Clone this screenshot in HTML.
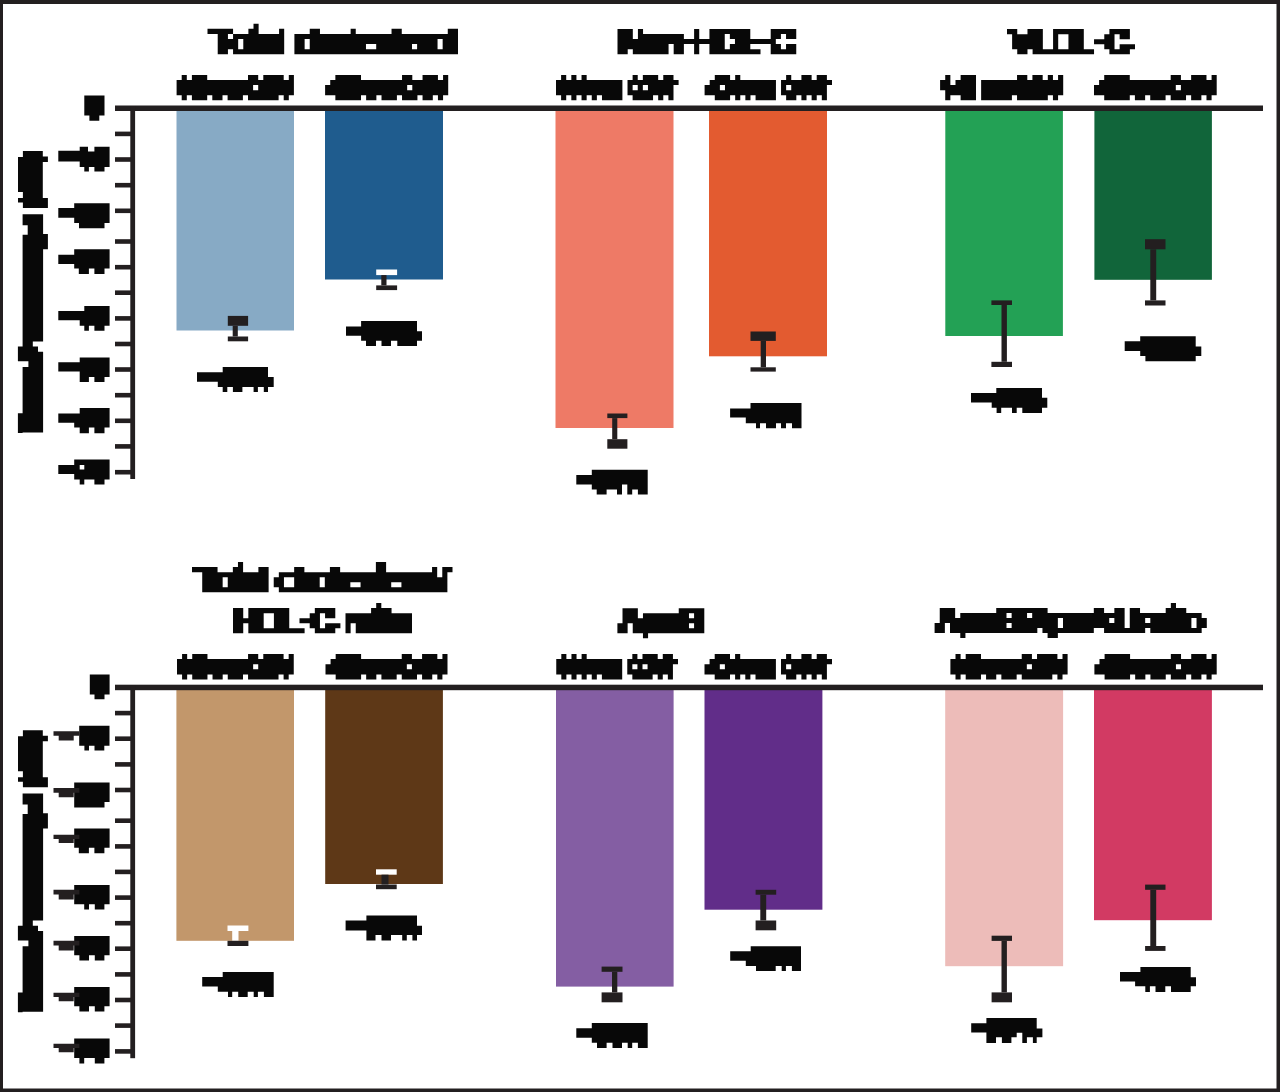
<!DOCTYPE html>
<html><head><meta charset="utf-8"><title>Lipid changes</title>
<style>html,body{margin:0;padding:0;background:#fff;font-family:"Liberation Sans",sans-serif;}svg{display:block;}</style>
</head><body><svg width="1280" height="1092" viewBox="0 0 1280 1092"><rect x="0" y="0" width="1280" height="1092" fill="#231f20"/><rect x="3" y="4" width="1273.5" height="1084.5" fill="#fff"/><rect x="176.5" y="108.3" width="117.5" height="222.2" fill="#87aac5"/><rect x="325.0" y="108.3" width="118.0" height="171.2" fill="#1f5c8e"/><rect x="555.5" y="108.3" width="118.0" height="319.7" fill="#ee7a66"/><rect x="709.0" y="108.3" width="118.0" height="248.0" fill="#e35b30"/><rect x="945.3" y="108.3" width="117.6" height="227.7" fill="#23a155"/><rect x="1094.4" y="108.3" width="117.5" height="171.5" fill="#11653a"/><rect x="227.8" y="315.9" width="20.3" height="9.9" fill="#231f20"/><rect x="232.7" y="325.8" width="5.1" height="10.7" fill="#231f20"/><rect x="227.8" y="336.5" width="20.3" height="4.8" fill="#231f20"/><rect x="376.2" y="269.5" width="20.9" height="5.6" fill="#fff"/><rect x="381.3" y="275.1" width="5.2" height="10.3" fill="#231f20"/><rect x="376.2" y="285.4" width="20.9" height="4.7" fill="#231f20"/><rect x="607.3" y="413.5" width="20.1" height="4.6" fill="#231f20"/><rect x="612.2" y="418.1" width="5.1" height="21.1" fill="#231f20"/><rect x="607.3" y="439.2" width="20.1" height="9.5" fill="#231f20"/><rect x="750.5" y="331.5" width="25.3" height="9.4" fill="#231f20"/><rect x="760.7" y="340.9" width="5.3" height="26.4" fill="#231f20"/><rect x="750.5" y="367.3" width="25.3" height="4.3" fill="#231f20"/><rect x="991.4" y="300.4" width="20.6" height="4.6" fill="#231f20"/><rect x="1001.5" y="305.0" width="5.4" height="56.8" fill="#231f20"/><rect x="991.4" y="361.8" width="20.6" height="5.2" fill="#231f20"/><rect x="1145.0" y="239.2" width="20.5" height="10.1" fill="#231f20"/><rect x="1150.3" y="249.3" width="5.9" height="51.1" fill="#231f20"/><rect x="1145.0" y="300.4" width="20.5" height="5.1" fill="#231f20"/><rect x="115.0" y="105.5" width="1148.0" height="5.5" fill="#231f20"/><rect x="130.3" y="106.0" width="4.8" height="373.0" fill="#231f20"/><rect x="115.0" y="131.6" width="16.0" height="4.6" fill="#231f20"/><rect x="115.0" y="157.2" width="16.0" height="4.6" fill="#231f20"/><rect x="115.0" y="182.9" width="16.0" height="4.6" fill="#231f20"/><rect x="115.0" y="208.5" width="16.0" height="4.6" fill="#231f20"/><rect x="115.0" y="239.2" width="16.0" height="4.6" fill="#231f20"/><rect x="115.0" y="264.9" width="16.0" height="4.6" fill="#231f20"/><rect x="115.0" y="290.4" width="16.0" height="4.6" fill="#231f20"/><rect x="115.0" y="316.1" width="16.0" height="4.6" fill="#231f20"/><rect x="115.0" y="341.7" width="16.0" height="4.6" fill="#231f20"/><rect x="115.0" y="367.2" width="16.0" height="4.6" fill="#231f20"/><rect x="115.0" y="392.9" width="16.0" height="4.6" fill="#231f20"/><rect x="115.0" y="418.5" width="16.0" height="4.6" fill="#231f20"/><rect x="115.0" y="444.1" width="16.0" height="4.6" fill="#231f20"/><rect x="115.0" y="469.9" width="16.0" height="4.6" fill="#231f20"/><path fill="#080808" d="M197 372.3H222.7V381.8H197ZM222.7 367H268V387H222.7ZM217.8 377H273.7V387H217.8ZM222.7 387H227.3V392H222.7ZM232.9 387H242.4V392H232.9ZM253.6 387H257.9V392H253.6ZM263.8 387H268V392H263.8Z"/><path fill="#080808" d="M346 326.6H361.1V335.7H346ZM361.1 321H417V340.7H361.1ZM417 331.3H422V340.7H417ZM366 340.7H376V346H366ZM381.5 340.7H391V346H381.5ZM397.3 340.7H417V346H397.3Z"/><path fill="#080808" d="M576.3 475H591.8V484.4H576.3ZM591.8 469.7H647.7V484.4H591.8ZM591.8 484.4H622V489.4H591.8ZM627.3 484.4H647.7V489.4H627.3ZM596.7 489.4H606.6V494.6H596.7ZM617 489.4H622V494.6H617ZM627.3 489.4H632.2V494.6H627.3ZM637.9 489.4H647.7V494.6H637.9Z"/><path fill="#080808" d="M730.1 408.6H750.5V417.5H730.1ZM750.5 403H801.5V423.3H750.5ZM745.8 416.7H750.5V423.3H745.8ZM756 423.3H760V428.2H756ZM766 423.3H776V428.2H766ZM781 423.3H786V428.2H781ZM792 423.3H801.5V428.2H792Z"/><path fill="#080808" d="M971 392.9H996.3V402.4H971ZM996.3 388H1042V407.7H996.3ZM991.7 397.8H1047.3V407.7H991.7ZM996.6 407.7H1001.2V413H996.6ZM1012 407.7H1016.7V413H1012ZM1022.3 407.7H1042V413H1022.3Z"/><path fill="#080808" d="M1124.7 341.3H1140.2V351.1H1124.7ZM1140.2 336.3H1195.7V356H1140.2ZM1195.7 346.5H1201.3V356H1195.7ZM1145.4 356H1195.7V361.3H1145.4Z"/><path fill="#080808" d="M253.51 23.75h5.11v5.08h-5.11zM207.50 28.83h25.56v5.08h-25.56zM248.40 28.83h10.22v5.08h-10.22zM279.07 28.83h5.11v5.08h-5.11zM309.74 28.83h10.22v5.08h-10.22zM350.64 28.83h5.11v5.08h-5.11zM391.54 28.83h10.22v5.08h-10.22zM447.78 28.83h10.22v5.08h-10.22zM217.72 33.92h10.22v5.08h-10.22zM233.06 33.92h51.12v5.08h-51.12zM294.41 33.92h163.59v5.08h-163.59zM217.72 39.00h20.45v5.08h-20.45zM243.29 39.00h40.90v5.08h-40.90zM294.41 39.00h10.22v5.08h-10.22zM309.74 39.00h127.81v5.08h-127.81zM442.66 39.00h15.34v5.08h-15.34zM217.72 44.08h20.45v5.08h-20.45zM243.29 44.08h40.90v5.08h-40.90zM294.41 44.08h10.22v5.08h-10.22zM309.74 44.08h56.23v5.08h-56.23zM376.20 44.08h35.79v5.08h-35.79zM417.10 44.08h20.45v5.08h-20.45zM442.66 44.08h15.34v5.08h-15.34zM217.72 49.17h10.22v5.08h-10.22zM233.06 49.17h51.12v5.08h-51.12zM294.41 49.17h163.59v5.08h-163.59z"/><path fill="#080808" d="M617.50 28.90h15.32v5.06h-15.32zM637.93 28.90h5.11v5.06h-5.11zM694.11 28.90h5.11v5.06h-5.11zM709.43 28.90h40.86v5.06h-40.86zM770.71 28.90h25.54v5.06h-25.54zM617.50 33.96h15.32v5.06h-15.32zM637.93 33.96h45.96v5.06h-45.96zM694.11 33.96h5.11v5.06h-5.11zM709.43 33.96h15.32v5.06h-15.32zM729.86 33.96h20.43v5.06h-20.43zM770.71 33.96h10.21v5.06h-10.21zM786.04 33.96h10.21v5.06h-10.21zM617.50 39.02h107.25v5.06h-107.25zM734.96 39.02h40.86v5.06h-40.86zM617.50 44.08h51.07v5.06h-51.07zM673.68 44.08h10.21v5.06h-10.21zM694.11 44.08h5.11v5.06h-5.11zM709.43 44.08h15.32v5.06h-15.32zM729.86 44.08h20.43v5.06h-20.43zM770.71 44.08h10.21v5.06h-10.21zM786.04 44.08h10.21v5.06h-10.21zM617.50 49.14h10.21v5.06h-10.21zM632.82 49.14h35.75v5.06h-35.75zM673.68 49.14h10.21v5.06h-10.21zM694.11 49.14h5.11v5.06h-5.11zM709.43 49.14h51.07v5.06h-51.07zM770.71 49.14h25.54v5.06h-25.54z"/><path fill="#080808" d="M1007.00 29.10h10.24v5.04h-10.24zM1027.48 29.10h15.36v5.04h-15.36zM1053.08 29.10h30.72v5.04h-30.72zM1109.40 29.10h20.48v5.04h-20.48zM1012.12 34.14h30.72v5.04h-30.72zM1053.08 34.14h5.12v5.04h-5.12zM1068.44 34.14h15.36v5.04h-15.36zM1104.28 34.14h10.24v5.04h-10.24zM1119.64 34.14h10.24v5.04h-10.24zM1012.12 39.18h30.72v5.04h-30.72zM1053.08 39.18h5.12v5.04h-5.12zM1068.44 39.18h15.36v5.04h-15.36zM1094.04 39.18h20.48v5.04h-20.48zM1012.12 44.22h30.72v5.04h-30.72zM1053.08 44.22h5.12v5.04h-5.12zM1068.44 44.22h15.36v5.04h-15.36zM1104.28 44.22h10.24v5.04h-10.24zM1119.64 44.22h15.36v5.04h-15.36zM1017.24 49.26h10.24v5.04h-10.24zM1032.60 49.26h61.44v5.04h-61.44zM1109.40 49.26h20.48v5.04h-20.48z"/><path fill="#080808" d="M181.70 75.00h5.10v5.06h-5.10zM191.90 75.00h15.30v5.06h-15.30zM248.00 75.00h10.20v5.06h-10.20zM263.30 75.00h20.40v5.06h-20.40zM288.80 75.00h5.10v5.06h-5.10zM176.60 80.06h117.30v5.06h-117.30zM176.60 85.12h76.50v5.06h-76.50zM258.20 85.12h35.70v5.06h-35.70zM176.60 90.18h117.30v5.06h-117.30zM181.70 95.24h5.10v5.06h-5.10zM191.90 95.24h15.30v5.06h-15.30zM212.30 95.24h10.20v5.06h-10.20zM227.60 95.24h15.30v5.06h-15.30zM248.00 95.24h30.60v5.06h-30.60zM283.70 95.24h5.10v5.06h-5.10z"/><path fill="#080808" d="M335.36 75.00h25.65v5.06h-25.65zM402.04 75.00h10.26v5.06h-10.26zM422.55 75.00h15.39v5.06h-15.39zM443.07 75.00h5.13v5.06h-5.13zM330.23 80.06h117.97v5.06h-117.97zM325.10 85.12h82.07v5.06h-82.07zM412.30 85.12h35.90v5.06h-35.90zM325.10 90.18h123.10v5.06h-123.10zM335.36 95.24h25.65v5.06h-25.65zM366.13 95.24h10.26v5.06h-10.26zM381.52 95.24h15.39v5.06h-15.39zM402.04 95.24h15.39v5.06h-15.39zM422.55 95.24h10.26v5.06h-10.26zM437.94 95.24h5.13v5.06h-5.13z"/><path fill="#080808" d="M561.11 75.00h5.11v5.06h-5.11zM571.33 75.00h5.11v5.06h-5.11zM581.54 75.00h5.11v5.06h-5.11zM632.62 75.00h5.11v5.06h-5.11zM642.84 75.00h15.33v5.06h-15.33zM663.27 75.00h10.22v5.06h-10.22zM556.00 80.06h66.41v5.06h-66.41zM627.52 80.06h51.08v5.06h-51.08zM556.00 85.12h66.41v5.06h-66.41zM627.52 85.12h5.11v5.06h-5.11zM637.73 85.12h5.11v5.06h-5.11zM647.95 85.12h25.54v5.06h-25.54zM556.00 90.18h66.41v5.06h-66.41zM627.52 90.18h45.98v5.06h-45.98zM561.11 95.24h5.11v5.06h-5.11zM571.33 95.24h5.11v5.06h-5.11zM581.54 95.24h5.11v5.06h-5.11zM591.76 95.24h5.11v5.06h-5.11zM601.98 95.24h20.43v5.06h-20.43zM632.62 95.24h20.43v5.06h-20.43zM658.17 95.24h5.11v5.06h-5.11zM668.38 95.24h5.11v5.06h-5.11z"/><path fill="#080808" d="M714.79 75.00h15.29v5.06h-15.29zM735.18 75.00h5.10v5.06h-5.10zM786.14 75.00h5.10v5.06h-5.10zM801.42 75.00h10.19v5.06h-10.19zM816.71 75.00h10.19v5.06h-10.19zM709.70 80.06h66.25v5.06h-66.25zM781.04 80.06h50.96v5.06h-50.96zM704.60 85.12h15.29v5.06h-15.29zM724.98 85.12h50.96v5.06h-50.96zM781.04 85.12h5.10v5.06h-5.10zM791.23 85.12h35.67v5.06h-35.67zM704.60 90.18h71.34v5.06h-71.34zM781.04 90.18h45.86v5.06h-45.86zM714.79 95.24h15.29v5.06h-15.29zM735.18 95.24h5.10v5.06h-5.10zM745.37 95.24h5.10v5.06h-5.10zM755.56 95.24h20.38v5.06h-20.38zM786.14 95.24h10.19v5.06h-10.19zM801.42 95.24h5.10v5.06h-5.10zM811.62 95.24h5.10v5.06h-5.10zM821.81 95.24h5.10v5.06h-5.10z"/><path fill="#080808" d="M945.23 75.00h5.13v5.06h-5.13zM960.62 75.00h15.39v5.06h-15.39zM1017.04 75.00h10.26v5.06h-10.26zM1032.42 75.00h10.26v5.06h-10.26zM1047.81 75.00h5.13v5.06h-5.13zM1058.07 75.00h5.13v5.06h-5.13zM940.10 80.06h10.26v5.06h-10.26zM955.49 80.06h20.52v5.06h-20.52zM981.13 80.06h82.07v5.06h-82.07zM940.10 85.12h35.90v5.06h-35.90zM981.13 85.12h82.07v5.06h-82.07zM945.23 90.18h30.78v5.06h-30.78zM981.13 90.18h82.07v5.06h-82.07zM945.23 95.24h5.13v5.06h-5.13zM960.62 95.24h15.39v5.06h-15.39zM981.13 95.24h30.78v5.06h-30.78zM1017.04 95.24h30.78v5.06h-30.78zM1052.94 95.24h5.13v5.06h-5.13z"/><path fill="#080808" d="M1104.22 75.00h25.56v5.06h-25.56zM1170.69 75.00h10.23v5.06h-10.23zM1191.14 75.00h15.34v5.06h-15.34zM1211.59 75.00h5.11v5.06h-5.11zM1099.11 80.06h117.59v5.06h-117.59zM1094.00 85.12h81.80v5.06h-81.80zM1180.91 85.12h35.79v5.06h-35.79zM1094.00 90.18h122.70v5.06h-122.70zM1104.22 95.24h25.56v5.06h-25.56zM1134.90 95.24h10.23v5.06h-10.23zM1150.24 95.24h15.34v5.06h-15.34zM1170.69 95.24h15.34v5.06h-15.34zM1191.14 95.24h10.23v5.06h-10.23zM1206.48 95.24h5.11v5.06h-5.11z"/><path fill="#080808" d="M84.30 95.50H104.50V115.60H84.30ZM89.40 115.60H99.30V120.80H89.40ZM58.30 150.80H79.70V161.40H58.30ZM79.70 151.40H109.60V166.90H79.70ZM79.70 146.80H88.00V151.40H79.70ZM94.40 146.80H109.60V151.40H94.40ZM84.30 166.90H88.90V171.50H84.30ZM94.40 166.90H104.50V171.50H94.40ZM58.30 208.00H74.20V217.80H58.30ZM74.20 203.20H109.60V223.00H74.20ZM79.00 223.00H104.50V228.30H79.00ZM58.30 254.80H74.20V264.00H58.30ZM74.20 249.30H109.60V268.60H74.20ZM78.80 268.60H88.90V274.00H78.80ZM94.40 268.60H104.50V274.00H94.40ZM58.30 311.00H84.30V320.20H58.30ZM84.30 306.10H109.60V325.70H84.30ZM79.70 315.60H84.30V325.70H79.70ZM84.30 325.70H88.90V330.70H84.30ZM94.40 325.70H104.50V330.70H94.40ZM58.30 362.30H79.70V371.50H58.30ZM79.70 357.40H109.60V377.00H79.70ZM79.70 377.00H88.90V382.00H79.70ZM94.40 377.00H104.50V382.00H94.40ZM58.30 413.60H79.70V422.80H58.30ZM79.70 408.10H109.60V427.40H79.70ZM74.20 418.00H79.70V427.40H74.20ZM79.70 427.40H88.90V433.20H79.70ZM94.40 427.40H104.50V433.20H94.40ZM58.30 464.90H74.20V474.00H58.30ZM74.20 459.40H79.70V479.60H74.20ZM84.30 459.40H109.60V479.60H84.30ZM79.70 459.40H84.30V464.90H79.70ZM79.70 469.50H84.30V479.60H79.70ZM79.70 479.60H84.30V484.50H79.70ZM94.40 479.60H104.50V484.50H94.40Z"/><path fill="#080808" d="M22.90 151.00H42.80V208.00H22.90ZM18.00 157.00H22.90V192.00H18.00ZM18.00 198.00H22.90V202.50H18.00ZM42.80 156.50H47.90V162.00H42.80ZM42.80 198.00H47.90V208.00H42.80ZM22.60 214.20H43.10V225.20H22.60ZM27.70 225.20H43.10V234.80H27.70ZM22.60 234.80H43.10V341.40H22.60ZM22.60 341.40H32.80V346.50H22.60ZM22.60 346.50H38.00V361.20H22.60ZM28.40 361.20H38.00V367.00H28.40ZM22.60 367.00H43.10V432.60H22.60ZM38.00 351.70H43.10V367.00H38.00ZM42.80 234.10H47.90V249.20H42.80ZM17.90 346.50H22.60V361.20H17.90ZM17.90 413.20H22.60V433.00H17.90Z"/><rect x="176.4" y="687.5" width="117.6" height="253.3" fill="#c2976b"/><rect x="325.2" y="687.5" width="117.7" height="196.5" fill="#5e3817"/><rect x="556.0" y="687.5" width="117.6" height="299.1" fill="#845ea3"/><rect x="704.5" y="687.5" width="117.9" height="222.2" fill="#612d89"/><rect x="945.2" y="687.5" width="117.9" height="278.7" fill="#edbcb9"/><rect x="1094.0" y="687.5" width="117.9" height="232.7" fill="#d23a63"/><rect x="227.5" y="925.5" width="20.9" height="5.5" fill="#fff"/><rect x="232.2" y="931.0" width="6.3" height="9.8" fill="#fff"/><rect x="227.5" y="940.8" width="20.9" height="5.2" fill="#231f20"/><rect x="376.0" y="869.3" width="20.7" height="5.4" fill="#fff"/><rect x="381.5" y="874.7" width="7.0" height="9.8" fill="#231f20"/><rect x="376.0" y="884.5" width="20.7" height="4.7" fill="#231f20"/><rect x="601.6" y="966.6" width="20.9" height="5.2" fill="#231f20"/><rect x="612.0" y="971.8" width="5.3" height="20.6" fill="#231f20"/><rect x="601.6" y="992.4" width="20.9" height="9.9" fill="#231f20"/><rect x="755.6" y="889.8" width="20.6" height="4.9" fill="#231f20"/><rect x="760.3" y="894.7" width="5.9" height="25.8" fill="#231f20"/><rect x="755.6" y="920.5" width="20.6" height="9.8" fill="#231f20"/><rect x="991.6" y="935.7" width="20.4" height="5.2" fill="#231f20"/><rect x="1001.5" y="940.9" width="5.4" height="51.5" fill="#231f20"/><rect x="991.6" y="992.4" width="20.4" height="9.9" fill="#231f20"/><rect x="1145.1" y="884.6" width="20.4" height="5.2" fill="#231f20"/><rect x="1150.3" y="889.8" width="5.9" height="56.2" fill="#231f20"/><rect x="1145.1" y="946.0" width="20.4" height="4.9" fill="#231f20"/><rect x="115.0" y="684.7" width="1148.0" height="5.5" fill="#231f20"/><rect x="130.3" y="685.2" width="4.8" height="373.0" fill="#231f20"/><rect x="115.0" y="710.8" width="16.0" height="4.6" fill="#231f20"/><rect x="115.0" y="736.4" width="16.0" height="4.6" fill="#231f20"/><rect x="115.0" y="762.1" width="16.0" height="4.6" fill="#231f20"/><rect x="115.0" y="787.7" width="16.0" height="4.6" fill="#231f20"/><rect x="115.0" y="818.4" width="16.0" height="4.6" fill="#231f20"/><rect x="115.0" y="844.1" width="16.0" height="4.6" fill="#231f20"/><rect x="115.0" y="869.6" width="16.0" height="4.6" fill="#231f20"/><rect x="115.0" y="895.3" width="16.0" height="4.6" fill="#231f20"/><rect x="115.0" y="920.9" width="16.0" height="4.6" fill="#231f20"/><rect x="115.0" y="946.4" width="16.0" height="4.6" fill="#231f20"/><rect x="115.0" y="972.1" width="16.0" height="4.6" fill="#231f20"/><rect x="115.0" y="997.7" width="16.0" height="4.6" fill="#231f20"/><rect x="115.0" y="1023.3" width="16.0" height="4.6" fill="#231f20"/><rect x="115.0" y="1049.1" width="16.0" height="4.6" fill="#231f20"/><path fill="#080808" d="M202.2 976.9H222.7V986.4H202.2ZM222.7 972H273.7V991.7H222.7ZM217.8 981.8H222.7V991.7H217.8ZM228 991.7H232.2V997H228ZM238.2 991.7H247.7V997H238.2ZM253.7 991.7H257.9V997H253.7ZM263.9 991.7H273.7V997H263.9Z"/><path fill="#080808" d="M345.6 920.5H366.4V930.4H345.6ZM366.4 915.6H417V935H366.4ZM417 925.8H422V935H417ZM366.4 935H375.5V940.6H366.4ZM381.5 935H391V940.6H381.5ZM402.2 935H406.8V940.6H402.2ZM412.4 935H417V940.6H412.4Z"/><path fill="#080808" d="M576.3 1028.3H591.8V1037.7H576.3ZM591.8 1023H647.7V1042.7H591.8ZM597 1042.7H606.6V1048H597ZM612.5 1042.7H622V1048H612.5ZM627.7 1042.7H632.2V1048H627.7ZM637.9 1042.7H647.7V1048H637.9Z"/><path fill="#080808" d="M730.2 951.3H750.7V960.7H730.2ZM750.7 946.3H801V966H750.7ZM745.8 960.7H750.7V966H745.8ZM756 966H775.7V971H756ZM781.7 966H785.9V971H781.7ZM791.9 966H801V971H791.9Z"/><path fill="#080808" d="M971.2 1023.3H986.4V1032.4H971.2ZM986.4 1018H1036.7V1032.8H986.4ZM986.4 1032.8H1016.7V1037.3H986.4ZM1022.3 1032.8H1036.7V1037.3H1022.3ZM1036.7 1028.5H1042.4V1037.3H1036.7ZM986.4 1037.3H996V1043H986.4ZM1001.9 1037.3H1011.4V1043H1001.9ZM1022.3 1037.3H1026.9V1043H1022.3ZM1032.9 1037.3H1036.7V1043H1032.9Z"/><path fill="#080808" d="M1120 971.9H1140.4V981.4H1120ZM1140.4 967H1190.7V986.3H1140.4ZM1135.1 981.4H1140.4V986.3H1135.1ZM1190.7 977.2H1196V986.3H1190.7ZM1145.3 986.3H1149.9V991.9H1145.3ZM1155.5 986.3H1165.3V991.9H1155.5ZM1171 986.3H1190.7V991.9H1171Z"/><path fill="#080808" d="M237.97 562.10h5.11v5.02h-5.11zM375.88 562.10h10.22v5.02h-10.22zM192.00 567.12h25.54v5.02h-25.54zM232.86 567.12h10.22v5.02h-10.22zM258.40 567.12h10.22v5.02h-10.22zM294.16 567.12h10.22v5.02h-10.22zM329.91 567.12h10.22v5.02h-10.22zM375.88 567.12h10.22v5.02h-10.22zM432.07 567.12h5.11v5.02h-5.11zM442.28 567.12h10.22v5.02h-10.22zM202.22 572.13h66.40v5.02h-66.40zM278.83 572.13h158.34v5.02h-158.34zM442.28 572.13h5.11v5.02h-5.11zM202.22 577.15h20.43v5.02h-20.43zM227.75 577.15h40.86v5.02h-40.86zM273.73 577.15h10.22v5.02h-10.22zM294.16 577.15h25.54v5.02h-25.54zM324.80 577.15h122.59v5.02h-122.59zM202.22 582.17h20.43v5.02h-20.43zM227.75 582.17h40.86v5.02h-40.86zM273.73 582.17h10.22v5.02h-10.22zM294.16 582.17h25.54v5.02h-25.54zM324.80 582.17h25.54v5.02h-25.54zM360.56 582.17h30.65v5.02h-30.65zM401.42 582.17h45.97v5.02h-45.97zM202.22 587.18h66.40v5.02h-66.40zM278.83 587.18h168.56v5.02h-168.56z"/><path fill="#080808" d="M376.20 603.10h5.11v5.02h-5.11zM233.00 608.12h10.23v5.02h-10.23zM248.34 608.12h40.91v5.02h-40.91zM314.83 608.12h20.46v5.02h-20.46zM371.09 608.12h20.46v5.02h-20.46zM233.00 613.13h10.23v5.02h-10.23zM248.34 613.13h15.34v5.02h-15.34zM273.91 613.13h15.34v5.02h-15.34zM309.71 613.13h10.23v5.02h-10.23zM325.06 613.13h10.23v5.02h-10.23zM345.51 613.13h66.49v5.02h-66.49zM233.00 618.15h30.69v5.02h-30.69zM273.91 618.15h15.34v5.02h-15.34zM299.49 618.15h20.46v5.02h-20.46zM345.51 618.15h66.49v5.02h-66.49zM233.00 623.17h10.23v5.02h-10.23zM248.34 623.17h15.34v5.02h-15.34zM273.91 623.17h15.34v5.02h-15.34zM309.71 623.17h10.23v5.02h-10.23zM325.06 623.17h15.34v5.02h-15.34zM345.51 623.17h5.11v5.02h-5.11zM355.74 623.17h56.26v5.02h-56.26zM233.00 628.18h10.23v5.02h-10.23zM248.34 628.18h56.26v5.02h-56.26zM314.83 628.18h20.46v5.02h-20.46zM345.51 628.18h5.11v5.02h-5.11zM355.74 628.18h56.26v5.02h-56.26z"/><path fill="#080808" d="M622.51 608.20h15.34v5.00h-15.34zM678.74 608.20h25.56v5.00h-25.56zM622.51 613.20h15.34v5.00h-15.34zM642.96 613.20h46.01v5.00h-46.01zM694.08 613.20h10.22v5.00h-10.22zM622.51 618.20h81.79v5.00h-81.79zM617.40 623.20h10.22v5.00h-10.22zM632.74 623.20h56.23v5.00h-56.23zM694.08 623.20h10.22v5.00h-10.22zM617.40 628.20h10.22v5.00h-10.22zM632.74 628.20h71.56v5.00h-71.56zM642.96 633.20h5.11v5.00h-5.11z"/><path fill="#080808" d="M1170.85 603.00h5.14v5.00h-5.14zM939.74 608.00h15.41v5.00h-15.41zM996.23 608.00h51.36v5.00h-51.36zM1093.81 608.00h10.27v5.00h-10.27zM1114.35 608.00h10.27v5.00h-10.27zM1129.76 608.00h10.27v5.00h-10.27zM1165.71 608.00h20.54v5.00h-20.54zM939.74 613.00h15.41v5.00h-15.41zM960.28 613.00h46.22v5.00h-46.22zM1011.64 613.00h15.41v5.00h-15.41zM1032.18 613.00h92.45v5.00h-92.45zM1129.76 613.00h71.90v5.00h-71.90zM939.74 618.00h118.12v5.00h-118.12zM1063.00 618.00h46.22v5.00h-46.22zM1114.35 618.00h10.27v5.00h-10.27zM1129.76 618.00h15.41v5.00h-15.41zM1150.31 618.00h41.09v5.00h-41.09zM1196.53 618.00h10.27v5.00h-10.27zM934.60 623.00h10.27v5.00h-10.27zM950.01 623.00h56.49v5.00h-56.49zM1011.64 623.00h46.22v5.00h-46.22zM1063.00 623.00h61.63v5.00h-61.63zM1129.76 623.00h61.63v5.00h-61.63zM1196.53 623.00h10.27v5.00h-10.27zM934.60 628.00h10.27v5.00h-10.27zM950.01 628.00h87.31v5.00h-87.31zM1042.45 628.00h51.36v5.00h-51.36zM1104.08 628.00h41.09v5.00h-41.09zM1150.31 628.00h51.36v5.00h-51.36zM960.28 633.00h5.14v5.00h-5.14zM1047.59 633.00h10.27v5.00h-10.27z"/><path fill="#080808" d="M182.08 654.00h5.08v5.10h-5.08zM192.23 654.00h15.23v5.10h-15.23zM248.07 654.00h10.15v5.10h-10.15zM263.29 654.00h20.30v5.10h-20.30zM288.67 654.00h5.08v5.10h-5.08zM177.00 659.10h116.75v5.10h-116.75zM177.00 664.20h76.14v5.10h-76.14zM258.22 664.20h35.53v5.10h-35.53zM177.00 669.30h116.75v5.10h-116.75zM182.08 674.40h5.08v5.10h-5.08zM192.23 674.40h15.23v5.10h-15.23zM212.53 674.40h10.15v5.10h-10.15zM227.76 674.40h15.23v5.10h-15.23zM248.07 674.40h30.46v5.10h-30.46zM283.60 674.40h5.08v5.10h-5.08z"/><path fill="#080808" d="M335.67 654.00h25.42v5.10h-25.42zM401.75 654.00h10.17v5.10h-10.17zM422.08 654.00h15.25v5.10h-15.25zM442.42 654.00h5.08v5.10h-5.08zM330.58 659.10h116.92v5.10h-116.92zM325.50 664.20h81.33v5.10h-81.33zM411.92 664.20h35.58v5.10h-35.58zM325.50 669.30h122.00v5.10h-122.00zM335.67 674.40h25.42v5.10h-25.42zM366.17 674.40h10.17v5.10h-10.17zM381.42 674.40h15.25v5.10h-15.25zM401.75 674.40h15.25v5.10h-15.25zM422.08 674.40h10.17v5.10h-10.17zM437.33 674.40h5.08v5.10h-5.08z"/><path fill="#080808" d="M561.32 654.00h5.07v5.10h-5.07zM571.47 654.00h5.07v5.10h-5.07zM581.61 654.00h5.07v5.10h-5.07zM632.34 654.00h5.07v5.10h-5.07zM642.49 654.00h15.22v5.10h-15.22zM662.78 654.00h10.15v5.10h-10.15zM556.25 659.10h65.95v5.10h-65.95zM627.27 659.10h50.73v5.10h-50.73zM556.25 664.20h65.95v5.10h-65.95zM627.27 664.20h5.07v5.10h-5.07zM637.42 664.20h5.07v5.10h-5.07zM647.56 664.20h25.36v5.10h-25.36zM556.25 669.30h65.95v5.10h-65.95zM627.27 669.30h45.66v5.10h-45.66zM561.32 674.40h5.07v5.10h-5.07zM571.47 674.40h5.07v5.10h-5.07zM581.61 674.40h5.07v5.10h-5.07zM591.76 674.40h5.07v5.10h-5.07zM601.91 674.40h20.29v5.10h-20.29zM632.34 674.40h20.29v5.10h-20.29zM657.71 674.40h5.07v5.10h-5.07zM667.85 674.40h5.07v5.10h-5.07z"/><path fill="#080808" d="M714.70 654.00h15.30v5.10h-15.30zM735.10 654.00h5.10v5.10h-5.10zM786.10 654.00h5.10v5.10h-5.10zM801.40 654.00h10.20v5.10h-10.20zM816.70 654.00h10.20v5.10h-10.20zM709.60 659.10h66.30v5.10h-66.30zM781.00 659.10h51.00v5.10h-51.00zM704.50 664.20h15.30v5.10h-15.30zM724.90 664.20h51.00v5.10h-51.00zM781.00 664.20h5.10v5.10h-5.10zM791.20 664.20h35.70v5.10h-35.70zM704.50 669.30h71.40v5.10h-71.40zM781.00 669.30h45.90v5.10h-45.90zM714.70 674.40h15.30v5.10h-15.30zM735.10 674.40h5.10v5.10h-5.10zM745.30 674.40h5.10v5.10h-5.10zM755.50 674.40h20.40v5.10h-20.40zM786.10 674.40h10.20v5.10h-10.20zM801.40 674.40h5.10v5.10h-5.10zM811.60 674.40h5.10v5.10h-5.10zM821.80 674.40h5.10v5.10h-5.10z"/><path fill="#080808" d="M955.50 654.00h5.10v5.10h-5.10zM965.69 654.00h15.29v5.10h-15.29zM1021.74 654.00h10.19v5.10h-10.19zM1037.03 654.00h20.38v5.10h-20.38zM1062.50 654.00h5.10v5.10h-5.10zM950.40 659.10h117.20v5.10h-117.20zM950.40 664.20h76.43v5.10h-76.43zM1031.93 664.20h35.67v5.10h-35.67zM950.40 669.30h117.20v5.10h-117.20zM955.50 674.40h5.10v5.10h-5.10zM965.69 674.40h15.29v5.10h-15.29zM986.07 674.40h10.19v5.10h-10.19zM1001.36 674.40h15.29v5.10h-15.29zM1021.74 674.40h30.57v5.10h-30.57zM1057.41 674.40h5.10v5.10h-5.10z"/><path fill="#080808" d="M1104.59 654.00h25.48v5.10h-25.48zM1170.84 654.00h10.19v5.10h-10.19zM1191.22 654.00h15.29v5.10h-15.29zM1211.60 654.00h5.10v5.10h-5.10zM1099.50 659.10h117.20v5.10h-117.20zM1094.40 664.20h81.53v5.10h-81.53zM1181.03 664.20h35.67v5.10h-35.67zM1094.40 669.30h122.30v5.10h-122.30zM1104.59 674.40h25.48v5.10h-25.48zM1135.17 674.40h10.19v5.10h-10.19zM1150.45 674.40h15.29v5.10h-15.29zM1170.84 674.40h15.29v5.10h-15.29zM1191.22 674.40h10.19v5.10h-10.19zM1206.51 674.40h5.10v5.10h-5.10z"/><path fill="#080808" d="M89.80 674.60H109.60V694.60H89.80ZM94.50 694.60H104.50V699.30H94.50ZM79.20 725.70H109.50V745.70H79.20ZM84.40 745.70H89.00V750.60H84.40ZM94.50 745.70H104.30V750.60H94.50ZM74.20 782.60H109.60V801.90H74.20ZM74.20 801.90H104.50V807.40H74.20ZM74.20 828.40H109.60V847.70H74.20ZM78.80 847.70H88.90V853.20H78.80ZM94.40 847.70H104.40V853.20H94.40ZM74.20 885.00H109.60V904.20H74.20ZM84.20 904.20H89.00V909.60H84.20ZM94.80 904.20H104.40V909.60H94.80ZM74.20 936.00H109.60V955.20H74.20ZM79.40 955.20H89.00V960.60H79.40ZM94.80 955.20H104.40V960.60H94.80ZM74.20 987.00H109.60V1006.20H74.20ZM79.40 1006.20H89.00V1011.60H79.40ZM94.80 1006.20H104.40V1011.60H94.80ZM74.20 1038.50H109.60V1058.10H74.20ZM79.40 1058.10H84.20V1063.50H79.40ZM94.80 1058.10H104.40V1063.50H94.80Z"/><path fill="#231f20" d="M53.50 731.20H79.40V735.85H53.50ZM58.70 735.85H73.70V740.50H58.70ZM53.50 788.10H79.40V792.70H53.50ZM58.70 792.70H73.70V797.30H58.70ZM53.50 834.80H79.40V838.95H53.50ZM58.70 838.95H73.70V843.10H58.70ZM53.50 889.80H79.40V894.60H53.50ZM58.70 894.60H73.70V899.40H58.70ZM53.50 940.80H79.40V945.60H53.50ZM58.70 945.60H73.70V950.40H58.70ZM53.50 992.70H79.40V997.00H53.50ZM58.70 997.00H73.70V1001.30H58.70ZM53.50 1043.70H79.40V1048.00H53.50ZM58.70 1048.00H73.70V1052.30H58.70Z"/><path fill="#080808" d="M22.90 730.20H42.80V787.20H22.90ZM18.00 736.20H22.90V771.20H18.00ZM18.00 777.20H22.90V781.70H18.00ZM42.80 735.70H47.90V741.20H42.80ZM42.80 777.20H47.90V787.20H42.80ZM22.60 793.40H43.10V804.40H22.60ZM27.70 804.40H43.10V814.00H27.70ZM22.60 814.00H43.10V920.60H22.60ZM22.60 920.60H32.80V925.70H22.60ZM22.60 925.70H38.00V940.40H22.60ZM28.40 940.40H38.00V946.20H28.40ZM22.60 946.20H43.10V1011.80H22.60ZM38.00 930.90H43.10V946.20H38.00ZM42.80 813.30H47.90V828.40H42.80ZM17.90 925.70H22.60V940.40H17.90ZM17.90 992.40H22.60V1012.20H17.90Z"/></svg></body></html>
